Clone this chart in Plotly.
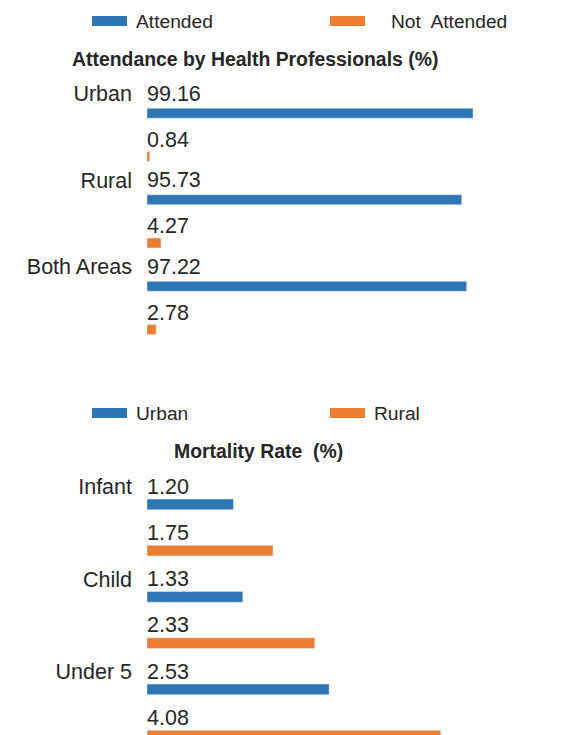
import plotly.graph_objects as go

# ---- data ----
areas = ["Urban", "Rural", "Both Areas"]
attended = [99.16, 95.73, 97.22]
not_attended = [0.84, 4.27, 2.78]

mort_cats = ["Infant", "Child", "Under 5"]
mort_urban = [1.20, 1.33, 2.53]
mort_rural = [1.75, 2.33, 4.08]

top_series = ["Attended", "Not  Attended"]
bottom_series = ["Urban", "Rural"]
title_top = "Attendance by Health Professionals (%)"
title_bottom = "Mortality Rate  (%)"

# ---- style ----
OFF = 8  # page body margin
W, H = 579 - OFF, 735 - OFF
BLUE = "#2E75B6"
ORANGE = "#ED7D31"
TXT = "#262626"
FONT = "Liberation Sans, Arial, sans-serif"
LBL = 21.5


def px(x):
    return (x - OFF) / W


def py(y):
    return 1 - (y - OFF) / H


fig = go.Figure()

fig.add_trace(go.Bar(y=areas, x=attended, orientation="h", marker_color=BLUE,
                     name=top_series[0], xaxis="x", yaxis="y"))
fig.add_trace(go.Bar(y=areas, x=not_attended, orientation="h", marker_color=ORANGE,
                     name=top_series[1], xaxis="x", yaxis="y"))
fig.add_trace(go.Bar(y=mort_cats, x=mort_urban, orientation="h", marker_color=BLUE,
                     name=bottom_series[0], xaxis="x2", yaxis="y2"))
fig.add_trace(go.Bar(y=mort_cats, x=mort_rural, orientation="h", marker_color=ORANGE,
                     name=bottom_series[1], xaxis="x2", yaxis="y2"))

annotations = []
# value labels above each bar, anchored at x = 0 of the axis
for cats, vals, shift, xr, yr in [
    (areas, attended, 41, "x", "y"),
    (areas, not_attended, -5, "x", "y"),
    (mort_cats, mort_urban, 41, "x2", "y2"),
    (mort_cats, mort_rural, -5, "x2", "y2"),
]:
    for c, v in zip(cats, vals):
        annotations.append(dict(
            x=0, y=c, xref=xr, yref=yr, text=f"{v:.2f}", showarrow=False,
            xanchor="left", yanchor="middle", yshift=shift, xshift=-2,
            font=dict(size=LBL, color=TXT, family=FONT)))

# titles
annotations.append(dict(x=px(255), y=py(59), xref="paper", yref="paper", text=f"<b>{title_top}</b>",
                        showarrow=False, xanchor="center", yanchor="middle",
                        font=dict(size=19.4, color=TXT, family=FONT)))
annotations.append(dict(x=px(258), y=py(451), xref="paper", yref="paper", text=f"<b>{title_bottom}</b>",
                        showarrow=False, xanchor="center", yanchor="middle",
                        font=dict(size=19.4, color=TXT, family=FONT)))

# custom legends
shapes = []
legend_items = [
    (top_series[0], BLUE, 92, 21, 134),
    (top_series[1], ORANGE, 330, 21, 389),
    (bottom_series[0], BLUE, 92, 413, 134),
    (bottom_series[1], ORANGE, 330, 413, 372),
]
for name, col, sx, cy, tx in legend_items:
    shapes.append(dict(type="rect", xref="paper", yref="paper",
                       x0=px(sx), x1=px(sx + 35), y0=py(cy + 5), y1=py(cy - 5),
                       fillcolor=col, line=dict(width=0)))
    annotations.append(dict(x=px(tx), y=py(cy), xref="paper", yref="paper", text=name,
                            showarrow=False, xanchor="left", yanchor="middle",
                            font=dict(size=19.2, color=TXT, family=FONT)))

axis_common = dict(showgrid=False, zeroline=False, showline=False, ticks="", automargin=False)

fig.update_layout(
    width=W, height=H,
    margin=dict(l=0, r=0, t=0, b=0, autoexpand=False),
    paper_bgcolor="white", plot_bgcolor="white",
    showlegend=False,
    barmode="group", bargap=0.0, bargroupgap=0.77,
    font=dict(family=FONT, color=TXT, size=LBL),
    xaxis=dict(domain=[px(147), px(475.8)], range=[0, 100], showticklabels=False,
               anchor="y", **axis_common),
    yaxis=dict(domain=[py(362.9), py(91.6)], autorange="reversed", anchor="x",
               categoryorder="array", categoryarray=areas,
               ticklabelstandoff=14, ticklabelshift=41,
               tickfont=dict(size=LBL, color=TXT, family=FONT), **axis_common),
    xaxis2=dict(domain=[px(147), px(471)], range=[0, 4.5], showticklabels=False,
                anchor="y2", **axis_common),
    yaxis2=dict(domain=[0, py(481.25)], range=[2.243, -0.5], anchor="x2",
                categoryorder="array", categoryarray=mort_cats,
                ticklabelstandoff=14, ticklabelshift=41,
                tickfont=dict(size=LBL, color=TXT, family=FONT), **axis_common),
    annotations=annotations,
    shapes=shapes,
)

fig.write_html("out.html")
